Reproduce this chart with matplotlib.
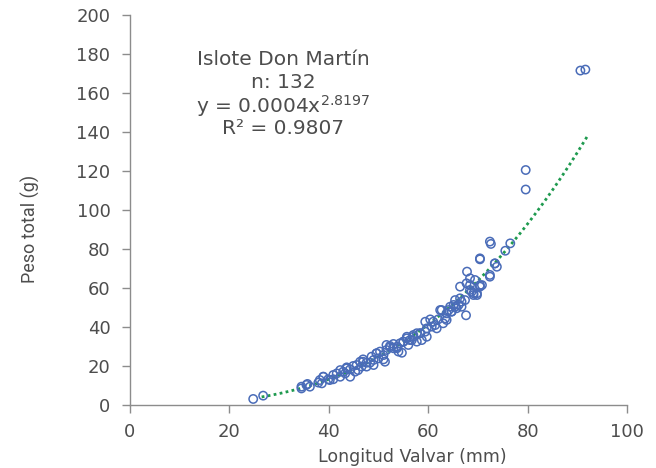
import numpy as np
import matplotlib
matplotlib.use("Agg")
import matplotlib.pyplot as plt

# Longitud valvar (mm) and peso total (g)
longitud = [
    24.8, 26.8, 34.5, 35.7, 37.9, 38.9, 38.6, 40.2, 40.9, 42.3, 43.3, 43.6, 44.3,
    45.3, 45.9, 46.6, 46.9, 47.6, 48.3, 49.0, 49.6, 50.0, 51.0, 51.3, 51.6, 52.3,
    53.0, 53.7, 54.0, 54.7, 55.0, 55.7, 56.0, 56.7, 57.7, 58.4, 58.7, 59.4, 59.7,
    59.4, 60.4, 60.7, 61.4, 61.7, 62.4, 63.0, 63.4, 63.7, 64.1, 64.4, 64.7, 65.1,
    65.4, 65.7, 66.4, 66.7, 67.4, 67.6, 67.8, 68.4, 68.4, 68.7, 69.1, 69.8, 69.4,
    70.4, 70.8, 72.4, 72.6, 70.4, 73.4, 73.8, 72.4, 75.5, 76.5, 79.6, 79.6, 90.6,
    91.6,
    34.5, 35.5, 36.2, 38.2, 38.9, 39.9, 40.9, 41.6, 42.3, 42.9, 43.6, 44.3, 44.9,
    45.6, 46.3, 46.9, 47.6, 48.6, 49.0, 49.6, 50.3, 51.0, 51.6, 52.3, 53.0, 53.7,
    54.3, 55.0, 55.7, 56.3, 57.0, 57.7,
    61.0, 62.0, 62.7, 63.7, 64.7, 65.4, 66.1, 66.7, 66.4, 67.7, 68.4, 69.1, 69.8,
    70.4, 72.4, 73.4, 70.4, 59.7, 58.4, 57.0,
]
peso = [
    3.1, 4.8, 9.4, 10.8, 11.5, 14.5, 11.1, 12.8, 13.2, 14.5, 16.2, 19.3, 14.5,
    17.1, 17.9, 19.7, 22.2, 19.7, 21.7, 20.5, 26.5, 23.9, 25.6, 22.2, 30.8, 29.6,
    29.1, 29.9, 27.4, 26.8, 32.5, 35.0, 30.8, 33.3, 32.5, 36.8, 33.3, 37.6, 35.0,
    42.7, 43.9, 40.2, 41.0, 39.3, 48.7, 41.9, 44.4, 47.0, 48.7, 50.4, 47.9, 51.3,
    53.8, 49.6, 54.7, 50.4, 53.8, 46.0, 68.4, 65.0, 61.5, 58.1, 56.4, 57.3, 64.1,
    60.7, 61.5, 83.8, 82.6, 74.7, 72.6, 70.9, 65.8, 79.1, 82.9, 120.5, 110.5, 171.5,
    172.0,
    8.5, 10.3, 9.4, 12.8, 14.5, 13.2, 15.4, 16.2, 17.9, 17.1, 18.8, 18.3, 20.0,
    20.5, 22.2, 23.4, 21.7, 24.8, 23.1, 26.5, 27.4, 23.4, 28.2, 30.3, 31.3, 29.1,
    31.6, 32.5, 34.2, 33.3, 35.9, 36.8,
    42.7, 43.9, 48.7, 43.6, 47.9, 50.4, 51.3, 53.0, 60.7, 62.4, 59.0, 57.3, 56.4,
    61.5, 66.7, 72.6, 75.2, 39.3, 36.8, 35.0,
]

coef_a = 0.0004
coef_b = 2.8197
fit_range = [26.5, 92.0]

titulo = ["Islote Don Martín", "n: 132", r"y = 0.0004x$^{2.8197}$", "R² = 0.9807"]
x_ticks = [0, 20, 40, 60, 80, 100]
y_ticks = [0, 20, 40, 60, 80, 100, 120, 140, 160, 180, 200]

txt = "#4d4d4d"

fig = plt.figure(figsize=(6.56, 4.68), dpi=100)
ax = fig.add_axes([0.198, 0.1346, 0.758, 0.8334])

xf = np.linspace(fit_range[0], fit_range[1], 200)
ax.plot(xf, coef_a * xf ** coef_b, linestyle=(0, (1, 1.2)), color="#1f9a4f", lw=2.0, zorder=1)
ax.scatter(longitud, peso, s=36, facecolors="none", edgecolors="#4a6cb8", linewidths=1.1, zorder=2)

ax.set_xlim(0, 100)
ax.set_ylim(0, 200)
ax.set_xticks(x_ticks)
ax.set_yticks(y_ticks)
for s in ["top", "right"]:
    ax.spines[s].set_visible(False)
for s in ["left", "bottom"]:
    ax.spines[s].set_color("#8c8c8c")
    ax.spines[s].set_linewidth(1.0)
ax.tick_params(axis="both", colors="#8c8c8c", labelcolor=txt, labelsize=13, length=6, width=1)
ax.tick_params(axis="x", pad=7)
ax.tick_params(axis="y", pad=8)

ax.set_xlabel("Longitud Valvar (mm)", fontsize=12.5, color=txt, family="DejaVu Sans")
ax.xaxis.set_label_coords(0.567, -0.133)
ax.xaxis.label.set_va("center")
ax.set_ylabel("Peso total (g)", fontsize=13, color=txt, family=["Liberation Sans Narrow", "Roboto", "DejaVu Sans"])
ax.yaxis.set_label_coords(-0.201, 0.451)
ax.yaxis.label.set_va("center")

y0 = 0.885
dy = 0.059
for i, t in enumerate(titulo):
    ax.text(0.308, y0 - i * dy, t, transform=ax.transAxes, ha="center", va="center",
            fontsize=14.5, color=txt)

fig.savefig("out.png", dpi=100)
